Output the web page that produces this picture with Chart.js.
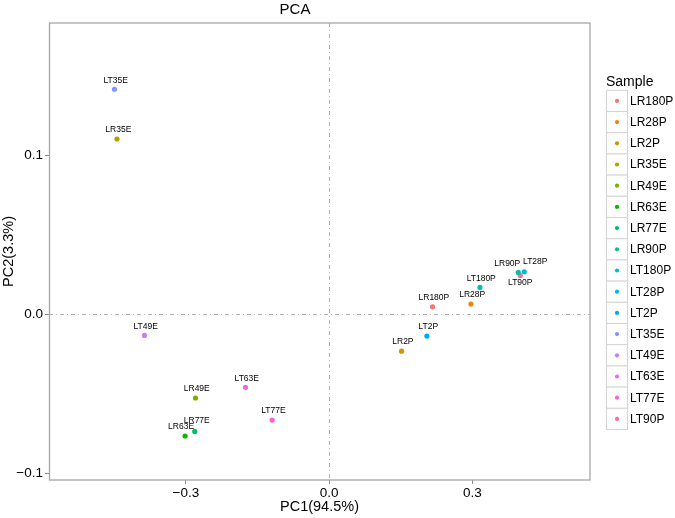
<!DOCTYPE html>
<html>
<head>
<meta charset="utf-8">
<script src="https://cdn.jsdelivr.net/npm/chart.js@4.4.1/dist/chart.umd.min.js"></script>
<style>
  html, body { margin: 0; padding: 0; background: #ffffff; }
  canvas { display: block; }
</style>
</head>
<body>
<canvas id="c" width="675" height="518"></canvas>
<script>
// ---- data ----
const samples = ['LR180P','LR28P','LR2P','LR35E','LR49E','LR63E','LR77E','LR90P','LT180P','LT28P','LT2P','LT35E','LT49E','LT63E','LT77E','LT90P'];
const pc1 = [0.2166, 0.2969, 0.1517, -0.4442, -0.2799, -0.3017, -0.2814, 0.3960, 0.3157, 0.4085, 0.2047, -0.4496, -0.3868, -0.1752, -0.1194, 0.4002];
const pc2 = [0.0048, 0.0065, -0.0231, 0.1104, -0.0526, -0.0765, -0.0736, 0.0264, 0.0170, 0.0268, -0.0136, 0.1417, -0.0132, -0.0459, -0.0665, 0.0245];
const colors = ['#F8766D','#E68613','#CD9600','#ABA300','#7CAE00','#0CB702','#00BE67','#00C19A','#00BFC4','#00B8E7','#00A9FF','#8494FF','#C77CFF','#ED68ED','#FF61CC','#FF68A1'];
const xTicks = [-0.3, 0.0, 0.3];
const yTicks = [-0.1, 0.0, 0.1];
const chartTitle = 'PCA';
const xTitle = 'PC1(94.5%)';
const yTitle = 'PC2(3.3%)';
const legendTitle = 'Sample';

const FONT = "'Liberation Sans', Arial, Helvetica, sans-serif";

// label nudges (style only, in pixels) for repelled labels
const labelNudge = {
  'LT28P': [11, -10],
  'LR90P': [-11, -8.6],
  'LT90P': [0, 7],
  'LR77E': [2, -11],
  'LR63E': [-4, -9.3]
};

const fmt = v => {
  const s = Number(v).toFixed(1);
  return s.replace('-', '\u2212');
};

const datasets = samples.map((s, i) => ({
  label: s,
  data: [{x: pc1[i], y: pc2[i]}],
  backgroundColor: colors[i],
  borderColor: colors[i],
  borderWidth: 0,
  pointRadius: 2.6,
  pointHoverRadius: 2.6
}));

const framePlugin = {
  id: 'frame',
  beforeDatasetsDraw(chart) {
    const {ctx, chartArea: a, scales} = chart;
    ctx.save();
    ctx.strokeStyle = '#b3b3b3';
    ctx.lineWidth = 1;
    ctx.setLineDash([4, 3, 1, 3]);
    const x0 = Math.round(scales.x.getPixelForValue(0)) + 0.5;
    const y0 = Math.round(scales.y.getPixelForValue(0)) + 0.5;
    ctx.beginPath();
    ctx.moveTo(x0, a.top); ctx.lineTo(x0, a.bottom);
    ctx.moveTo(a.left, y0); ctx.lineTo(a.right, y0);
    ctx.stroke();
    ctx.restore();
  },
  afterDraw(chart) {
    const {ctx, chartArea: a} = chart;
    ctx.save();
    ctx.strokeStyle = '#a6a6a6';
    ctx.lineWidth = 1.3;
    ctx.strokeRect(a.left + 0.5, a.top, a.right - a.left - 0.5, a.bottom - a.top);
    ctx.restore();
  }
};

const labelPlugin = {
  id: 'pointLabels',
  afterDatasetsDraw(chart) {
    const {ctx} = chart;
    ctx.save();
    ctx.font = '8.5px ' + FONT;
    ctx.fillStyle = '#000000';
    ctx.textAlign = 'center';
    ctx.textBaseline = 'middle';
    chart.data.datasets.forEach((ds, i) => {
      const el = chart.getDatasetMeta(i).data[0];
      const n = labelNudge[ds.label] || [1.3, -9];
      ctx.fillText(ds.label, el.x + n[0], el.y + n[1]);
    });
    ctx.restore();
  }
};

const legendPlugin = {
  id: 'sideLegend',
  afterDraw(chart) {
    const {ctx} = chart;
    const x0 = 606, top = 90.3, h = 21.2, w = 21;
    ctx.save();
    ctx.fillStyle = '#000000';
    ctx.font = '14px ' + FONT;
    ctx.textAlign = 'left';
    ctx.textBaseline = 'alphabetic';
    ctx.fillText(legendTitle, x0, 85.5);
    chart.data.datasets.forEach((ds, i) => {
      const y = top + i * h;
      ctx.fillStyle = '#ffffff';
      ctx.fillRect(x0, y, w, h);
      ctx.strokeStyle = '#d4d4d4';
      ctx.lineWidth = 1;
      ctx.strokeRect(x0 + 0.5, y, w, h);
      ctx.fillStyle = ds.backgroundColor;
      ctx.beginPath();
      ctx.arc(x0 + w / 2 + 0.5, y + h / 2, 2.1, 0, Math.PI * 2);
      ctx.fill();
      ctx.fillStyle = '#000000';
      ctx.font = '12px ' + FONT;
      ctx.textBaseline = 'middle';
      ctx.fillText(ds.label, x0 + 24, y + h / 2 + 0.5);
      ctx.textBaseline = 'alphabetic';
    });
    ctx.restore();
  }
};

new Chart(document.getElementById('c'), {
  type: 'scatter',
  data: { datasets },
  options: {
    responsive: false,
    animation: false,
    devicePixelRatio: 1,
    events: [],
    layout: { padding: { left: 0, right: 85, top: 0, bottom: 0 } },
    plugins: {
      legend: { display: false },
      tooltip: { enabled: false },
      title: {
        display: true,
        text: chartTitle,
        color: '#000000',
        font: { family: FONT, size: 15, weight: 'normal' },
        padding: { top: 1, bottom: 4 }
      }
    },
    scales: {
      x: {
        type: 'linear',
        min: -0.5866,
        max: 0.5462,
        afterBuildTicks: axis => { axis.ticks = xTicks.map(v => ({ value: v })); },
        afterFit: axis => { axis.height = 38; },
        ticks: {
          callback: v => fmt(v),
          color: '#000000',
          font: { family: FONT, size: 13.5 },
          padding: 1,
          maxRotation: 0
        },
        grid: {
          drawOnChartArea: false,
          drawTicks: true,
          tickLength: 4,
          color: '#8c8c8c'
        },
        border: { display: false },
        title: {
          display: true,
          text: xTitle,
          color: '#000000',
          font: { family: FONT, size: 14.5 },
          padding: { top: 0, bottom: 2 }
        }
      },
      y: {
        type: 'linear',
        min: -0.1042,
        max: 0.1834,
        afterBuildTicks: axis => { axis.ticks = yTicks.map(v => ({ value: v })); },
        afterFit: axis => { axis.width = 49; },
        ticks: {
          callback: v => fmt(v),
          color: '#000000',
          font: { family: FONT, size: 13.5 },
          padding: 2
        },
        grid: {
          drawOnChartArea: false,
          drawTicks: true,
          tickLength: 4,
          color: '#8c8c8c'
        },
        border: { display: false },
        title: {
          display: true,
          text: yTitle,
          color: '#000000',
          font: { family: FONT, size: 14.5 },
          padding: { top: 0, bottom: 0 }
        }
      }
    }
  },
  plugins: [framePlugin, labelPlugin, legendPlugin]
});
</script>
</body>
</html>
